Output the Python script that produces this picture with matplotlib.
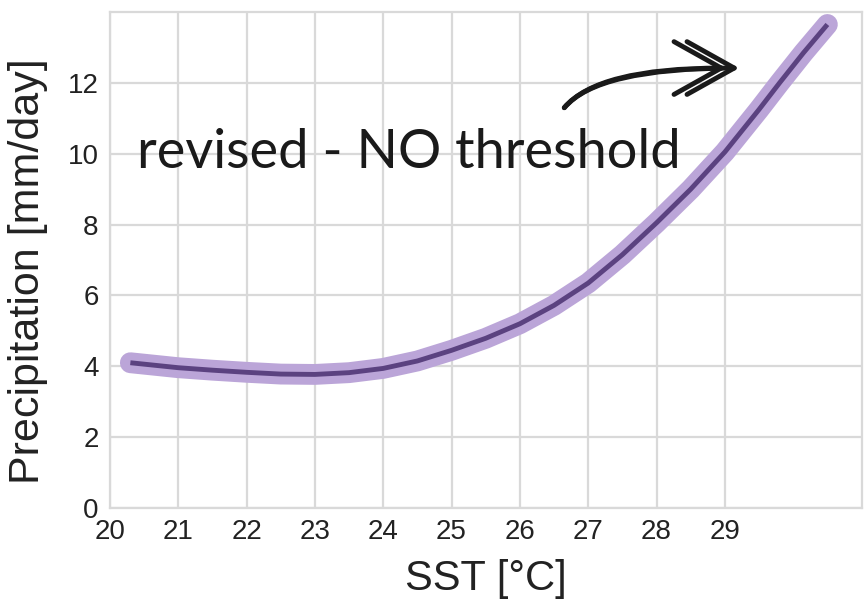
import numpy as np
import matplotlib
matplotlib.use("Agg")
import matplotlib.pyplot as plt

# ── Data: precipitation vs. sea-surface temperature ──────────
sst = [20.3, 20.5, 21.0, 21.5, 22.0, 22.5, 23.0, 23.5, 24.0, 24.5,
       25.0, 25.5, 26.0, 26.5, 27.0, 27.5, 28.0, 28.5, 29.0, 29.5,
       29.8, 30.15, 30.5]
precip = [4.10, 4.06, 3.96, 3.89, 3.83, 3.78, 3.77, 3.82, 3.94, 4.15,
          4.45, 4.79, 5.20, 5.72, 6.35, 7.15, 8.05, 9.00, 10.05, 11.25,
          12.0, 12.85, 13.65]

x_ticks = list(range(20, 30))
y_ticks = list(range(0, 13, 2))

GRID_COLOR = "#d9d9d9"
BAND_COLOR = "#bba5d8"
LINE_COLOR = "#5b4280"
INK = "#1a1a1a"

plt.rcParams.update({
    "font.family": ["Liberation Sans", "DejaVu Sans"],
})

fig = plt.figure(figsize=(8.65, 6.04), dpi=100)
ax = fig.add_axes([0.127, 0.159, 0.869, 0.821])

ax.plot(sst, precip, color=BAND_COLOR, lw=15, solid_capstyle="round",
        solid_joinstyle="round", zorder=3)
ax.plot(sst, precip, color=LINE_COLOR, lw=3.5, solid_capstyle="butt",
        solid_joinstyle="round", zorder=4)

ax.set_xlim(20, 31)
ax.set_ylim(0, 14)
ax.set_xticks(x_ticks)
ax.set_yticks(y_ticks)
ax.tick_params(axis="both", length=0, labelsize=20, colors="#222222", pad=8)
ax.grid(True, color=GRID_COLOR, lw=1.6)
ax.set_axisbelow(True)
for s in ax.spines.values():
    s.set_color(GRID_COLOR)
    s.set_linewidth(1.6)

ax.set_xlabel("SST [°C]", fontsize=30, color="#222222", labelpad=10)
ax.set_ylabel("Precipitation [mm/day]", fontsize=31, color="#222222")
ax.yaxis.set_label_coords(-0.082, 0.478)

# ── Annotation ───────────────────────────────────────────────
ax.text(20.39, 9.6, "revised - NO threshold", fontsize=39,
        family=["Lato", "DejaVu Sans"], color=INK,
        ha="left", va="baseline", zorder=5)

# curved arrow with a double chevron head
for tip in (29.21, 29.02):
    ax.annotate("", xy=(tip, 12.42), xytext=(26.65, 11.3),
                arrowprops=dict(arrowstyle="->,head_length=3.4,head_width=1.9",
                                lw=3.5, color=INK,
                                connectionstyle="angle3,angleA=50,angleB=0",
                                shrinkA=0, shrinkB=0),
                zorder=5)

fig.savefig("out.png", dpi=100, facecolor="white")
